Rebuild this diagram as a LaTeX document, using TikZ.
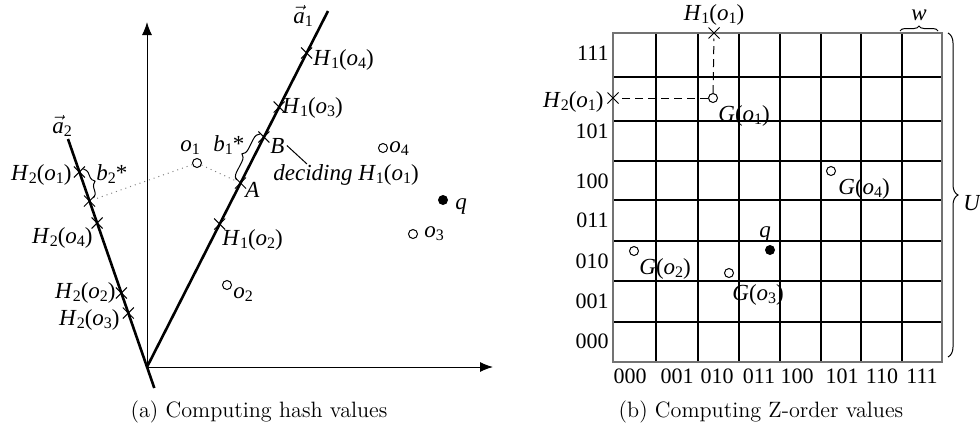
\documentclass[tikz,border=0pt]{standalone}
\usepackage{fontspec}
\newfontfamily\tms{Liberation Serif}
\usetikzlibrary{arrows.meta,shapes.misc,decorations.pathreplacing}
\newcommand\sbs[1]{\raisebox{-0.35ex}{\fontsize{8}{9}\selectfont #1}}
\newcommand\Hx[2]{\textit{H}\sbs{#1}(\textit{o}\sbs{#2})}
\newcommand\Gx[1]{\textit{G}(\textit{o}\sbs{#1})}
\newcommand\ox[1]{\textit{o}\sbs{#1}}
\newcommand\avec[1]{$\vec{\mbox{\textit{a}}}$\sbs{#1}}
\tikzset{
  axis/.style={line width=0.5pt,-{Latex[length=6.5pt,width=5pt]}},
  vecline/.style={line width=1.3pt},
  xmark/.style={cross out,draw,minimum size=5pt,inner sep=0pt,line width=0.5pt},
  opt/.style={circle,draw,minimum size=4.5pt,inner sep=0pt,line width=0.5pt},
  fpt/.style={circle,fill=black,minimum size=5pt,inner sep=0pt},
  lab/.style={font=\tms\fontsize{11.5}{13}\selectfont,inner sep=0pt},
  dig/.style={font=\tms\fontsize{11}{13}\selectfont,inner sep=0pt},
  captext/.style={font=\fontsize{11.1}{13}\selectfont,inner sep=0pt},
  dotline/.style={gray,dotted,line width=0.5pt},
  dashl/.style={dash pattern=on 4pt off 2.5pt,line width=0.5pt},
  gridl/.style={line width=0.55pt},
  border/.style={draw=black!55,line width=0.9pt},
  brc/.style={decorate,decoration={brace,amplitude=#1},line width=0.5pt},
  leader/.style={line width=0.5pt}
}
\begin{document}
\begin{tikzpicture}[x=0.5pt,y=-0.5pt]
\useasboundingbox (0,0) rectangle (980,430);
% ---------- left panel ----------
\coordinate (O) at (147,367);
\coordinate (ytop) at (147,22);
\coordinate (xend) at (493,367);
\coordinate (a1e) at (328,11);
\coordinate (a2t) at (68,139);
\coordinate (a2b) at (154.3,388);
\draw[axis] (O) -- (ytop);
\draw[axis] (O) -- (xend);
\draw[vecline] (O) -- (a1e);
\draw[vecline] (a2b) -- (a2t);
\node[lab,anchor=base west] (a1lab) at (293,23) {\avec{1}};
\node[lab,anchor=base west] (a2lab) at (52,133) {\avec{2}};
% crosses on a1
\node[xmark] (h1o4) at (306.6,53) {};
\node[xmark] (h1o3) at (279.2,107) {};
\node[xmark] (B) at (263.9,137) {};
\node[xmark] (A) at (240.5,183) {};
\node[xmark] (h1o2) at (219.7,224) {};
% crosses on a2
\node[xmark] (h2o1) at (79.4,172) {};
\node[xmark] (P) at (89.5,201) {};
\node[xmark] (h2o4) at (97.1,223) {};
\node[xmark] (h2o2) at (121.4,293) {};
\node[xmark] (h2o3) at (128.3,313) {};
% labels a1
\node[lab,anchor=base west] (lh1o4) at (313,65) {\Hx{1}{4}};
\node[lab,anchor=base west] (lh1o3) at (282,113) {\Hx{1}{3}};
\node[lab,anchor=base west] (lB) at (270,153) {\textit{B}};
\node[lab,anchor=base west] (lA) at (245,197) {\textit{A}};
\node[lab,anchor=base west] (lh1o2) at (222,245) {\Hx{1}{2}};
\node[lab,anchor=base west] (ldec) at (273,180) {\textit{deciding} \Hx{1}{1}};
\coordinate (declead) at (307,164);
\draw[leader] ([xshift=1]lB.east) -- (declead);
% labels a2
\node[lab,anchor=base east] (lh2o1) at (72,180) {\Hx{2}{1}};
\node[lab,anchor=base east] (lh2o4) at (93,243) {\Hx{2}{4}};
\node[lab,anchor=base east] (lh2o2) at (116,298) {\Hx{2}{2}};
\node[lab,anchor=base east] (lh2o3) at (120,325) {\Hx{2}{3}};
% points
\node[opt] (o1) at (197,163) {};
\node[opt] (o4) at (383,148) {};
\node[opt] (o3) at (413,234) {};
\node[opt] (o2) at (227,285) {};
\node[fpt] (q) at (443,200) {};
\node[lab,anchor=base west] (lo1) at (180,151) {\ox{1}};
\node[lab,anchor=base west] (lo4) at (389,152) {\ox{4}};
\node[lab,anchor=base west] (lo3) at (424,237) {\ox{3}};
\node[lab,anchor=base west] (lo2) at (233,298) {\ox{2}};
\node[lab,anchor=base west] (lq) at (455,209) {\textit{q}};
\draw[dotline] (o1) -- (A);
\draw[dotline] (o1) -- (P);
% braces
\draw[brc=3.5pt] ([shift={(-4,-3)}]A.center) -- ([shift={(-4,-3)}]B.center);
\node[lab,anchor=base west] (lb1) at (213,151) {\textit{b}\sbs{1}*};
\draw[brc=3.5pt] ([shift={(4,-3)}]h2o1.center) -- ([shift={(4,-3)}]P.center);
\node[lab,anchor=base west] (lb2) at (96,180) {\textit{b}\sbs{2}*};
\node[captext,anchor=base] (capa) at (259,417) {(a) Computing hash values};
% ---------- right panel ----------
\coordinate (gNW) at (613,33);
\coordinate (gSE) at (942,362);
\foreach \x in {656,698,739,780,821,861,902} \draw[gridl] (\x,33) -- (\x,362);
\foreach \y in {77,121,161,200,241,281,322} \draw[gridl] (613,\y) -- (942,\y);
\draw[border] (gNW) rectangle (gSE);
% row labels
\foreach \t/\y in {111/60,101/138,100/188,011/227,010/268,001/308,000/348}
  \node[dig,anchor=base east] at (609,\y) {\t};
% column labels
\foreach \t/\x in {000/630,001/677,010/717,011/759,100/797,101/842,110/882,111/922}
  \node[dig,anchor=base] at (\x,383) {\t};
% points
\node[xmark] (h1c) at (714,33) {};
\node[xmark] (h2c) at (613,98) {};
\node[opt] (g1) at (713,98) {};
\node[opt] (g4) at (831,171) {};
\node[opt] (g2) at (634,251) {};
\node[opt] (g3) at (729,273) {};
\node[fpt] (gq) at (770,250) {};
\draw[dashl] (g1) -- (h1c);
\draw[dashl] (g1) -- (h2c);
\node[lab,anchor=base] (lh1c) at (714,20) {\Hx{1}{1}};
\node[lab,anchor=base east] (lh2c) at (604,107) {\Hx{2}{1}};
\node[lab,anchor=base west] (lg1) at (718,121) {\Gx{1}};
\node[lab,anchor=base west] (lg4) at (838,194) {\Gx{4}};
\node[lab,anchor=base west] (lg2) at (639,274) {\Gx{2}};
\node[lab,anchor=base west] (lg3) at (732,300) {\Gx{3}};
\node[lab,anchor=base] (lgq) at (765,237) {\textit{q}};
% braces
\draw[brc=2.5pt] (900,31) -- (938,31);
\node[lab,anchor=base] (lw) at (919,20) {\textit{w}};
\draw[brc=5pt] (948,33) -- (948,357);
\node[lab,anchor=base west] (lU) at (963,210) {\textit{U}};
\node[captext,anchor=base] (capb) at (761,417) {(b) Computing Z-order values};
\end{tikzpicture}
\end{document}
